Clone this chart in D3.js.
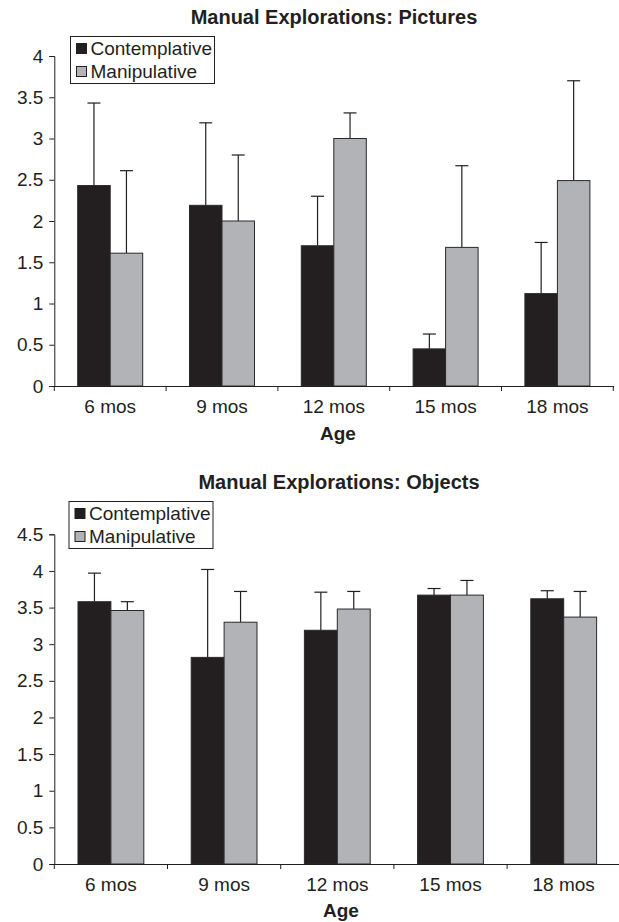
<!DOCTYPE html>
<html>
<head>
<meta charset="utf-8">
<script src="https://cdn.jsdelivr.net/npm/d3@7"></script>
<style>
  body { margin: 0; background: #fff; }
  svg { display: block; font-family: "Liberation Sans", Arial, sans-serif; }
  text { fill: #231f20; }
</style>
</head>
<body>
<svg id="chart"></svg>
<script>
const WIDTH = 619;
const HEIGHT = 922;

const ages = ['6 mos', '9 mos', '12 mos', '15 mos', '18 mos'];
const seriesNames = ['Contemplative', 'Manipulative'];

// Pictures panel: means and upper error (SD)
const picturesContemplative = [2.43, 2.19, 1.70, 0.45, 1.12];
const picturesContemplativeErr = [1.00, 1.00, 0.60, 0.18, 0.62];
const picturesManipulative = [1.61, 2.00, 3.00, 1.68, 2.49];
const picturesManipulativeErr = [1.00, 0.80, 0.31, 0.99, 1.21];
const picturesTicks = [0, 0.5, 1, 1.5, 2, 2.5, 3, 3.5, 4];

// Objects panel
const objectsContemplative = [3.58, 2.82, 3.19, 3.67, 3.62];
const objectsContemplativeErr = [0.39, 1.20, 0.52, 0.09, 0.11];
const objectsManipulative = [3.46, 3.30, 3.48, 3.67, 3.37];
const objectsManipulativeErr = [0.12, 0.42, 0.24, 0.20, 0.35];
const objectsTicks = [0, 0.5, 1, 1.5, 2, 2.5, 3, 3.5, 4, 4.5];

const fills = {Contemplative: '#231f20', Manipulative: '#b1b3b6'};
const INK = '#231f20';

const svg = d3.select('#chart')
  .attr('width', WIDTH)
  .attr('height', HEIGHT);

function drawPanel(opts) {
  const g = svg.append('g');

  const x0 = d3.scaleBand().domain(ages).range([opts.left, opts.right]).padding(0);
  const x1 = d3.scaleBand().domain(seriesNames)
    .range([0, x0.bandwidth()])
    .paddingInner(0).paddingOuter(0.72);
  const y = d3.scaleLinear().domain([0, opts.max]).range([opts.bottom, opts.top]);

  // title
  g.append('text')
    .attr('x', opts.titleX).attr('y', opts.titleY)
    .attr('text-anchor', 'middle')
    .style('font-size', '20px').style('font-weight', 'bold')
    .text(opts.title);

  const rows = ages.map((a, i) => ({
    age: a,
    vals: [
      {s: 'Contemplative', v: opts.cont[i], e: opts.contErr[i]},
      {s: 'Manipulative', v: opts.man[i], e: opts.manErr[i]}
    ]
  }));

  const groups = g.selectAll('g.age')
    .data(rows)
    .enter().append('g')
    .attr('class', 'age')
    .attr('transform', d => `translate(${x0(d.age)},0)`);

  // error bars (only the upper half shows above the bar)
  groups.selectAll('line.err')
    .data(d => d.vals)
    .enter().append('line')
    .attr('x1', d => x1(d.s) + x1.bandwidth() / 2)
    .attr('x2', d => x1(d.s) + x1.bandwidth() / 2)
    .attr('y1', d => y(d.v))
    .attr('y2', d => y(d.v + d.e))
    .attr('stroke', INK).attr('stroke-width', 1.2);

  groups.selectAll('line.cap')
    .data(d => d.vals)
    .enter().append('line')
    .attr('x1', d => x1(d.s) + x1.bandwidth() / 2 - 6.5)
    .attr('x2', d => x1(d.s) + x1.bandwidth() / 2 + 6.5)
    .attr('y1', d => y(d.v + d.e))
    .attr('y2', d => y(d.v + d.e))
    .attr('stroke', INK).attr('stroke-width', 1.2);

  groups.selectAll('rect')
    .data(d => d.vals)
    .enter().append('rect')
    .attr('x', d => x1(d.s))
    .attr('y', d => y(d.v))
    .attr('width', x1.bandwidth())
    .attr('height', d => y(0) - y(d.v))
    .attr('fill', d => fills[d.s])
    .attr('stroke', '#2a2a2a').attr('stroke-width', 1);

  // y axis
  const yAxis = g.append('g')
    .attr('transform', `translate(${opts.left},0)`)
    .call(d3.axisLeft(y).tickValues(opts.ticks).tickSize(5).tickPadding(6).tickFormat(d => String(d)));
  yAxis.select('.domain').attr('stroke', INK);
  yAxis.selectAll('.tick line').attr('stroke', INK);
  yAxis.selectAll('.tick text')
    .style('font-size', '19px').style('font-family', '"Liberation Sans", Arial, sans-serif')
    .attr('fill', INK);

  // x axis: labels centred on bands, ticks at band boundaries
  const xAxis = g.append('g')
    .attr('transform', `translate(0,${opts.bottom})`)
    .call(d3.axisBottom(x0).tickSize(0).tickPadding(14).tickSizeOuter(0));
  xAxis.select('.domain').attr('stroke', INK);
  xAxis.selectAll('.tick text')
    .style('font-size', '19px').style('font-family', '"Liberation Sans", Arial, sans-serif')
    .attr('fill', INK);

  const bounds = ages.map(a => x0(a)).concat([x0(ages[ages.length - 1]) + x0.bandwidth()]);
  g.selectAll('line.xtick')
    .data(bounds)
    .enter().append('line')
    .attr('x1', d => d).attr('x2', d => d)
    .attr('y1', opts.bottom).attr('y2', opts.bottom + 5)
    .attr('stroke', INK);

  g.append('text')
    .attr('x', opts.ageX).attr('y', opts.ageY)
    .attr('text-anchor', 'middle')
    .style('font-size', '19px').style('font-weight', 'bold')
    .text('Age');

  // legend
  const lg = g.append('g').attr('transform', `translate(${opts.legX},${opts.legY})`);
  lg.append('rect')
    .attr('width', 144).attr('height', 47)
    .attr('fill', '#fff').attr('stroke', INK).attr('stroke-width', 1);
  seriesNames.forEach((s, i) => {
    const cy = 12 + i * 23;
    lg.append('rect')
      .attr('x', 6).attr('y', cy - 5)
      .attr('width', 10).attr('height', 10)
      .attr('fill', fills[s]).attr('stroke', INK).attr('stroke-width', 1);
    lg.append('text')
      .attr('x', 20).attr('y', cy + 6.5)
      .style('font-size', '19px')
      .text(s);
  });
}

drawPanel({
  title: 'Manual Explorations: Pictures', titleX: 334, titleY: 24,
  left: 54.3, right: 613.3, top: 56, bottom: 386, max: 4, ticks: picturesTicks,
  cont: picturesContemplative, contErr: picturesContemplativeErr,
  man: picturesManipulative, manErr: picturesManipulativeErr,
  ageX: 338, ageY: 440, legX: 70.5, legY: 36.5
});

drawPanel({
  title: 'Manual Explorations: Objects', titleX: 339, titleY: 489,
  left: 54.3, right: 620.3, top: 534.3, bottom: 864, max: 4.5, ticks: objectsTicks,
  cont: objectsContemplative, contErr: objectsContemplativeErr,
  man: objectsManipulative, manErr: objectsManipulativeErr,
  ageX: 341, ageY: 917, legX: 69, legY: 501.5
});
</script>
</body>
</html>
